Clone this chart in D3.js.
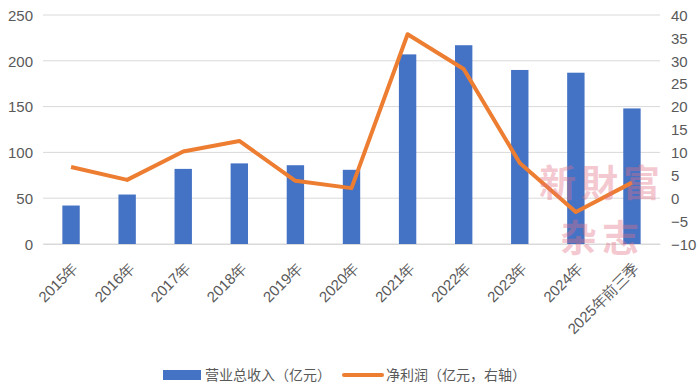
<!DOCTYPE html>
<html><head><meta charset="utf-8">
<script src="https://cdn.jsdelivr.net/npm/d3@7/dist/d3.min.js"></script>
<style>body{margin:0;background:#fff;}svg{display:block;font-family:"Noto Sans CJK SC","Noto Sans",sans-serif;}</style>
</head><body><svg id="c" width="700" height="389"></svg>
<script>
const categories = ["2015年","2016年","2017年","2018年","2019年","2020年","2021年","2022年","2023年","2024年","2025年前三季"];
const revenue = [42, 54, 82, 88, 86, 81, 207, 217, 190, 187, 148];
const profit = [6.8, 4.0, 10.2, 12.5, 3.8, 2.2, 35.8, 28.2, 7.7, -3.0, 3.4];
const leftTicks = [0, 50, 100, 150, 200, 250];
const rightTicks = [-10, -5, 0, 5, 10, 15, 20, 25, 30, 35, 40];
const seriesNames = ["营业总收入（亿元）", "净利润（亿元，右轴）"];
const watermark = ["新財富", "杂志"];

const svg = d3.select("#c");
const L = 43, R = 660, T = 15, B = 244;
const x = d3.scaleBand().domain(categories).range([L, R]).paddingInner(0.69).paddingOuter(0.345);
const yL = d3.scaleLinear().domain([0, 250]).range([B, T]);
const yR = d3.scaleLinear().domain([-10, 40]).range([B, T]);
const txt = "#595959";

// gridlines
svg.append("g").selectAll("line").data(leftTicks).join("line")
  .attr("x1", L).attr("x2", R).attr("y1", d => yL(d)).attr("y2", d => yL(d))
  .attr("stroke", "#d9d9d9").attr("stroke-width", 1);

// left axis
const gl = svg.append("g").attr("transform", `translate(${L},0)`)
  .call(d3.axisLeft(yL).tickValues(leftTicks).tickSize(0).tickPadding(10));
gl.select(".domain").remove();
gl.selectAll("text").attr("fill", txt).style("font-size", "15px").attr("dy", "0.35em");

// right axis
const gr = svg.append("g").attr("transform", `translate(${R},0)`)
  .call(d3.axisRight(yR).tickValues(rightTicks).tickSize(0).tickPadding(11));
gr.select(".domain").remove();
gr.selectAll("text").attr("fill", txt).style("font-size", "15px").attr("dy", "0.35em");

// bars
svg.append("g").selectAll("rect").data(revenue).join("rect")
  .attr("x", (d, i) => x(categories[i])).attr("width", x.bandwidth())
  .attr("y", d => yL(d)).attr("height", d => yL(0) - yL(d))
  .attr("fill", "#4472C4");

// x axis
const gx = svg.append("g").attr("transform", `translate(0,${B})`)
  .call(d3.axisBottom(x).tickSize(0).tickPadding(0));
gx.select(".domain").attr("stroke", "#d9d9d9");
gx.selectAll("text").attr("fill", txt).style("font-size", "15px")
  .attr("text-anchor", "end").attr("x", 0).attr("y", 0).attr("dy", 0).attr("dx", 0)
  .attr("transform", "translate(8,25) rotate(-45)");

// line
const cx = i => x(categories[i]) + x.bandwidth() / 2;
svg.append("path").datum(profit)
  .attr("fill", "none").attr("stroke", "#ED7D31").attr("stroke-width", 4)
  .attr("stroke-linejoin", "round")
  .attr("d", d3.line().x((d, i) => cx(i)).y(d => yR(d)));

// watermark
const wm = svg.append("g").attr("fill", "rgba(228,110,130,0.38)")
  .style("font-family", "'Noto Sans CJK TC','Noto Sans CJK SC',serif").style("font-weight", "bold")
  .style("font-size", "37px").style("letter-spacing", "5px");
wm.append("text").attr("x", 602).attr("y", 197).attr("text-anchor", "middle").text(watermark[0]);
wm.append("text").attr("x", 602).attr("y", 252).attr("text-anchor", "middle").text(watermark[1]);

// legend
const lg = svg.append("g").style("font-size", "14px");
lg.append("rect").attr("x", 163).attr("y", 370).attr("width", 38).attr("height", 10).attr("fill", "#4472C4");
lg.append("text").attr("x", 205).attr("y", 375).attr("dy", "0.35em").attr("fill", txt).text(seriesNames[0]);
lg.append("line").attr("x1", 344).attr("x2", 382).attr("y1", 375).attr("y2", 375)
  .attr("stroke", "#ED7D31").attr("stroke-width", 4).attr("stroke-linecap", "round");
lg.append("text").attr("x", 386).attr("y", 375).attr("dy", "0.35em").attr("fill", txt).text(seriesNames[1]);
</script></body></html>
